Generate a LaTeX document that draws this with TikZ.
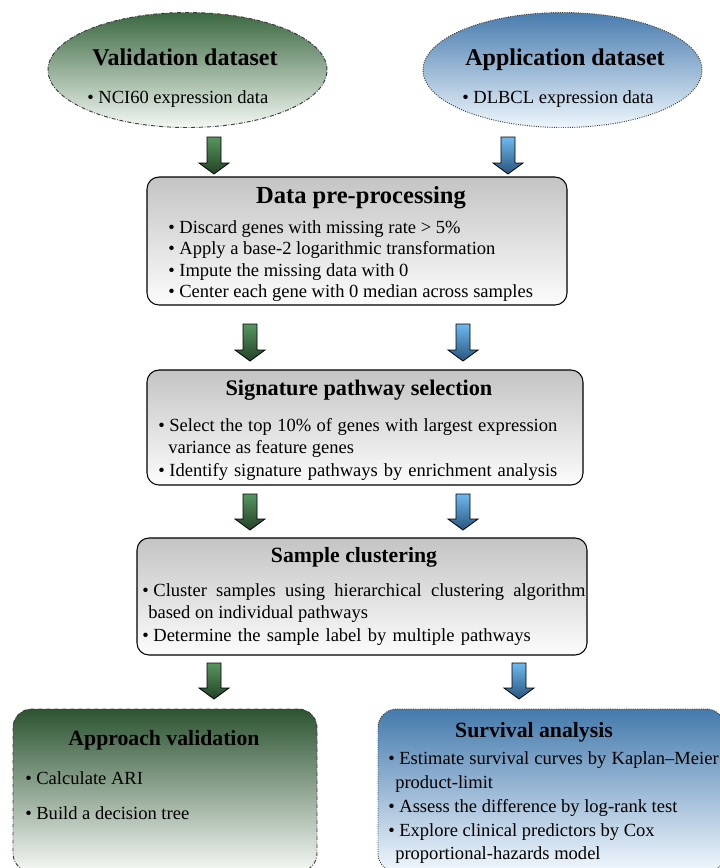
\documentclass[tikz,border=0pt]{standalone}
\usepackage{fontspec}
\setmainfont{Liberation Serif}
\usetikzlibrary{shapes.geometric}
\definecolor{gEllTop}{RGB}{58,104,64}
\definecolor{gEllBot}{RGB}{243,248,243}
\definecolor{bEllTop}{RGB}{72,124,174}
\definecolor{bEllBot}{RGB}{238,246,253}
\definecolor{grayTop}{RGB}{196,196,196}
\definecolor{grayBot}{RGB}{252,252,252}
\definecolor{gArrTop}{RGB}{88,150,95}
\definecolor{gArrBot}{RGB}{33,66,38}
\definecolor{bArrTop}{RGB}{110,185,240}
\definecolor{bArrBot}{RGB}{40,85,125}
\definecolor{gBoxTop}{RGB}{44,84,49}
\definecolor{gBoxBot}{RGB}{246,249,246}
\definecolor{bBoxTop}{RGB}{68,122,172}
\definecolor{bBoxBot}{RGB}{242,248,254}
\definecolor{edgeGray}{RGB}{60,60,60}
\newcommand\flowarrow[4]{%
  \shadedraw[#1] (#2-7,#3) -- (#2+7,#3) -- (#2+7,#4-11) -- (#2+15,#4-11)
    -- (#2,#4) -- (#2-15,#4-11) -- (#2-7,#4-11) -- cycle;}
\newcommand\justline[2]{\textbullet\ \makebox[#1][s]{#2}}
\tikzset{
  ttl/.style={font=\fontsize{18}{20}\bfseries\selectfont, anchor=base, inner sep=0pt},
  ttlsm/.style={font=\fontsize{16.3}{19}\bfseries\selectfont, anchor=base, inner sep=0pt},
  body/.style={font=\fontsize{13.9}{16.5}\selectfont, anchor=base west, inner sep=0pt},
  graybox/.style={draw=black, line width=0.8pt, rounded corners=9pt,
    top color=grayTop, bottom color=grayBot, inner sep=0pt},
  greenell/.style={ellipse, draw=edgeGray, line width=0.7pt,
    dash pattern=on 3pt off 1.2pt on 0.6pt off 1.2pt,
    top color=gEllTop, bottom color=gEllBot, inner sep=0pt},
  blueell/.style={ellipse, draw=edgeGray, line width=0.7pt, densely dotted,
    top color=bEllTop, bottom color=bEllBot, inner sep=0pt},
  greenbox/.style={draw=edgeGray, line width=0.7pt, rounded corners=14pt,
    dash pattern=on 3pt off 1.2pt on 0.6pt off 1.2pt,
    top color=gBoxTop, bottom color=gBoxBot, inner sep=0pt},
  bluebox/.style={draw=edgeGray, line width=0.7pt, rounded corners=14pt, densely dotted,
    top color=bBoxTop, bottom color=bBoxBot, inner sep=0pt},
  garr/.style={draw=black, line width=0.6pt, top color=gArrTop, bottom color=gArrBot},
  barr/.style={draw=black, line width=0.6pt, top color=bArrTop, bottom color=bArrBot},
}
\begin{document}
\begin{tikzpicture}[x=0.75pt,y=-0.75pt]
\useasboundingbox (0,0) rectangle (720,868);
\clip (0,0) rectangle (720,868);

% top ellipses
\node[greenell, minimum width=209.25pt, minimum height=86.25pt] (valid) at (187.5,70) {};
\node[ttl] (validT) at (185,65) {Validation dataset};
\node[body] (validB) at (87,103) {\textbullet\ NCI60 expression data};

\node[blueell, minimum width=209.25pt, minimum height=86.25pt] (appl) at (562.5,70) {};
\node[ttl] (applT) at (565,65) {Application dataset};
\node[body] (applB) at (462,103) {\textbullet\ DLBCL expression data};

% arrows row 1
\flowarrow{garr}{214}{137}{174}
\flowarrow{barr}{508}{137}{174}

% data pre-processing
\node[graybox, minimum width=315pt, minimum height=96pt] (prep) at (357,241) {};
\node[font=\fontsize{18.4}{20}\bfseries\selectfont, anchor=base, inner sep=0pt] (prepT) at (361,203) {Data pre-processing};
\node[body] (prep1) at (168,233) {\textbullet\ Discard genes with missing rate > 5\%};
\node[body] (prep2) at (168,254.5) {\textbullet\ Apply a base-2 logarithmic transformation};
\node[body] (prep3) at (168,276) {\textbullet\ Impute the missing data with 0};
\node[body] (prep4) at (168,297.5) {\textbullet\ Center each gene with 0 median across samples};

% arrows row 2
\flowarrow{garr}{250}{324}{361}
\flowarrow{barr}{463}{324}{361}

% signature pathway selection
\node[graybox, minimum width=327pt, minimum height=86.25pt] (sig) at (365,427.5) {};
\node[font=\fontsize{16.7}{19}\bfseries\selectfont, anchor=base, inner sep=0pt] (sigT) at (359,395) {Signature pathway selection};
\node[body] (sig1) at (158,431) {\justline{291pt}{Select the top 10\% of genes with largest expression}};
\node[body] (sig2) at (168,453.5) {variance as feature genes};
\node[body] (sig3) at (158,476) {\justline{291pt}{Identify signature pathways by enrichment analysis}};

% arrows row 3
\flowarrow{garr}{250}{494}{530}
\flowarrow{barr}{463}{494}{530}

% sample clustering
\node[graybox, minimum width=337.5pt, minimum height=87.75pt] (clus) at (362,596.5) {};
\node[ttlsm] (clusT) at (354,562) {Sample clustering};
\node[body] (clus1) at (142,596) {\justline{324pt}{Cluster samples using hierarchical clustering algorithm}};
\node[body] (clus2) at (148,618.5) {based on individual pathways};
\node[body] (clus3) at (142,641) {\justline{283pt}{Determine the sample label by multiple pathways}};

% arrows row 4
\flowarrow{garr}{214}{663}{699}
\flowarrow{barr}{519}{663}{699}

% approach validation
\node[greenbox, minimum width=228pt, minimum height=122.25pt] (appr) at (165,790.5) {};
\node[ttlsm] (apprT) at (164,745) {Approach validation};
\node[body] (appr1) at (25,784) {\textbullet\ Calculate ARI};
\node[body] (appr2) at (25,819) {\textbullet\ Build a decision tree};

% survival analysis
\node[bluebox, minimum width=260.25pt, minimum height=122.25pt] (surv) at (551.5,790.5) {};
\node[ttlsm] (survT) at (534,737) {Survival analysis};
\node[body] (surv1) at (388,764) {\justline{239.5pt}{Estimate survival curves by Kaplan--Meier}};
\node[body] (surv2) at (395,788) {product-limit};
\node[body] (surv3) at (388,812) {\textbullet\ Assess the difference by log-rank test};
\node[body] (surv4) at (388,836) {\textbullet\ Explore clinical predictors by Cox};
\node[body] (surv5) at (395,859.5) {proportional-hazards model};
\end{tikzpicture}
\end{document}
